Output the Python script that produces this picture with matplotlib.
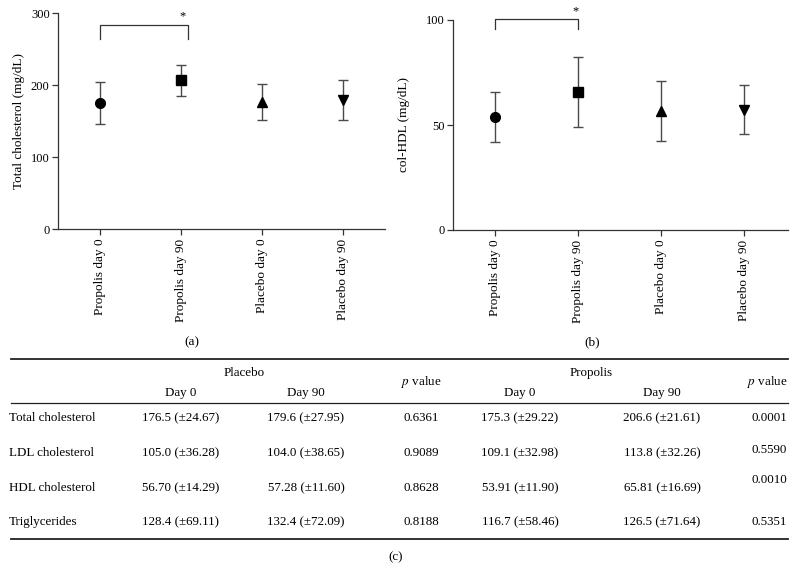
import matplotlib
matplotlib.use('Agg')
import matplotlib.pyplot as plt
from matplotlib.lines import Line2D

plt.rcParams['font.family'] = ['Liberation Serif', 'DejaVu Serif']
plt.rcParams['mathtext.fontset'] = 'stix'

# groups in the two charts
groups = ['Propolis day 0', 'Propolis day 90', 'Placebo day 0', 'Placebo day 90']
markers = ['o', 's', '^', 'v']

# total cholesterol, mean and sd
tc_mean = [175.3, 206.6, 176.5, 179.6]
tc_sd = [29.22, 21.61, 24.67, 27.95]
# HDL cholesterol, mean and sd
hdl_mean = [53.91, 65.81, 56.70, 57.28]
hdl_sd = [11.90, 16.69, 14.29, 11.60]

# table
row_names = ['Total cholesterol', 'LDL cholesterol', 'HDL cholesterol', 'Triglycerides']
placebo_d0 = ['176.5 (±24.67)', '105.0 (±36.28)', '56.70 (±14.29)', '128.4 (±69.11)']
placebo_d90 = ['179.6 (±27.95)', '104.0 (±38.65)', '57.28 (±11.60)', '132.4 (±72.09)']
placebo_p = ['0.6361', '0.9089', '0.8628', '0.8188']
propolis_d0 = ['175.3 (±29.22)', '109.1 (±32.98)', '53.91 (±11.90)', '116.7 (±58.46)']
propolis_d90 = ['206.6 (±21.61)', '113.8 (±32.26)', '65.81 (±16.69)', '126.5 (±71.64)']
propolis_p = ['0.0001', '0.5590', '0.0010', '0.5351']

W, H = 796, 584
fig = plt.figure(figsize=(W / 100, H / 100), dpi=100)


def fx(x):
    return x / W


def fy(y):
    return 1 - y / H


def make_ax(left, right, top, bottom):
    return fig.add_axes([fx(left), fy(bottom), fx(right) - fx(left), fy(top) - fy(bottom)])


def draw_panel(ax, means, sds, ylim, yticks, ylabel, xlim):
    for i in range(len(groups)):
        ax.errorbar(i, means[i], yerr=sds[i], fmt=markers[i], color='black',
                    ecolor='#4a4a4a', elinewidth=1.0, capsize=3.6, capthick=1.0,
                    markersize=7.5 if markers[i] in '^v' else (6.5 if markers[i] == 's' else 7),
                    clip_on=False, zorder=3)
    ax.set_xlim(*xlim)
    ax.set_ylim(*ylim)
    ax.set_yticks(yticks)
    ax.set_xticks(range(len(groups)))
    ax.set_xticklabels(groups, rotation=90, fontsize=9.5)
    ax.tick_params(axis='y', labelsize=9, length=4, width=0.9, color='#333333', pad=2)
    ax.tick_params(axis='x', length=4, width=0.9, color='#333333', pad=3)
    for s in ['top', 'right']:
        ax.spines[s].set_visible(False)
    for s in ['left', 'bottom']:
        ax.spines[s].set_color('#333333')
        ax.spines[s].set_linewidth(0.9)
    ax.set_ylabel(ylabel, fontsize=9.5)


# panel (a)
ax1 = make_ax(58, 385, 13, 229)
draw_panel(ax1, tc_mean, tc_sd, (0, 300), [0, 100, 200, 300],
           'Total cholesterol (mg/dL)', (-0.52, 3.52))
ax1.yaxis.set_label_coords(-0.101, 0.5)
ax1.plot([0, 0, 1.09, 1.09], [264, 284, 284, 264], color='#333333', lw=0.9, clip_on=False)
ax1.text(1.02, 287, '*', ha='center', va='bottom', fontsize=9)

# panel (b)
ax2 = make_ax(453, 788, 20, 230)
draw_panel(ax2, hdl_mean, hdl_sd, (0, 100), [0, 50, 100],
           'col-HDL (mg/dL)', (-0.51, 3.53))
ax2.yaxis.set_label_coords(-0.129, 0.5)
ax2.plot([0, 0, 1.0, 1.0], [95.6, 100.5, 100.5, 95.6], color='#333333', lw=0.9, clip_on=False)
ax2.text(0.97, 101.5, '*', ha='center', va='bottom', fontsize=9)

fig.text(fx(192), fy(342), '(a)', ha='center', va='center', fontsize=9.5)
fig.text(fx(592), fy(342), '(b)', ha='center', va='center', fontsize=9.5)

# table (c)
fs = 9.4
for y, lw in [(359, 1.3), (403, 0.9), (539, 1.3)]:
    fig.add_artist(Line2D([fx(11), fx(788)], [fy(y), fy(y)], color='#222222', lw=lw))

fig.text(fx(244), fy(373), 'Placebo', ha='center', va='center', fontsize=fs)
fig.text(fx(591), fy(373), 'Propolis', ha='center', va='center', fontsize=fs)
for x, t in [(181, 'Day 0'), (306, 'Day 90'), (520, 'Day 0'), (662, 'Day 90')]:
    fig.text(fx(x), fy(393), t, ha='center', va='center', fontsize=fs)
fig.text(fx(421), fy(382), '$p$ value', ha='center', va='center', fontsize=fs)
fig.text(fx(788), fy(382), '$p$ value', ha='right', va='center', fontsize=fs)

row_y = [418, 453, 488, 522]
p_shift = [0, -3, -8, 0]
for i in range(len(row_names)):
    y = row_y[i]
    fig.text(fx(9), fy(y), row_names[i], ha='left', va='center', fontsize=fs)
    fig.text(fx(181), fy(y), placebo_d0[i], ha='center', va='center', fontsize=fs)
    fig.text(fx(306), fy(y), placebo_d90[i], ha='center', va='center', fontsize=fs)
    fig.text(fx(421), fy(y), placebo_p[i], ha='center', va='center', fontsize=fs)
    fig.text(fx(520), fy(y), propolis_d0[i], ha='center', va='center', fontsize=fs)
    fig.text(fx(662), fy(y), propolis_d90[i], ha='center', va='center', fontsize=fs)
    fig.text(fx(787), fy(y + p_shift[i]), propolis_p[i], ha='right', va='center', fontsize=fs)

fig.text(fx(396), fy(557), '(c)', ha='center', va='center', fontsize=fs)

fig.savefig('out.png', dpi=100)
